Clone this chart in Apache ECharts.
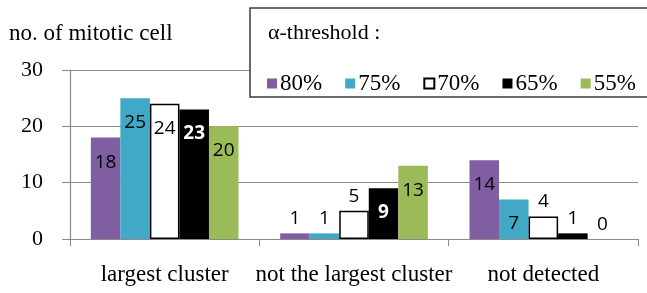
<!DOCTYPE html>
<html>
<head>
<meta charset="utf-8">
<script src="https://cdn.jsdelivr.net/npm/echarts@6/dist/echarts.min.js"></script>
<style>
  html, body { margin: 0; padding: 0; background: #fff; }
  #chart { width: 647px; height: 293px; }
</style>
</head>
<body>
<div id="chart"></div>
<script type="text/javascript">
// data
var categories = ['largest cluster', 'not the largest cluster', 'not detected'];
var thresholds = ['80%', '75%', '70%', '65%', '55%'];
var v80 = [18, 1, 14];
var v75 = [25, 1, 7];
var v70 = [24, 5, 4];
var v65 = [23, 9, 1];
var v55 = [20, 13, 0];
var yTicks = [0, 10, 20, 30];

var serif = '"Liberation Serif", "Times New Roman", Times, "DejaVu Serif", "Noto Serif", serif';
var sans = 'Open Sans';

// small bars get their number above (in black), tall ones inside the top
function items(vals) {
  return vals.map(function (v) {
    if (v <= 5) {
      return { value: v, label: { position: 'top', distance: 5, color: '#000', fontWeight: 'normal' } };
    }
    return { value: v, label: { position: 'insideTop', distance: 15 } };
  });
}

function bar(name, vals, fill, border, labelColor, bold) {
  return {
    name: name,
    type: 'bar',
    data: items(vals),
    barGap: 0,
    barCategoryGap: '22%',
    itemStyle: { color: fill, borderColor: border, borderWidth: border ? 1.5 : 0 },
    label: {
      show: true,
      color: labelColor,
      fontFamily: sans,
      fontSize: 19,
      fontWeight: bold ? 'bold' : 'normal'
    }
  };
}

var chart = echarts.init(document.getElementById('chart'));
chart.setOption({
  animation: false,
  backgroundColor: '#fff',
  grid: { left: 70, right: 9, top: 70, bottom: 54 },
  legend: {
    data: thresholds,
    left: 262,
    top: 67,
    icon: 'rect',
    itemWidth: 10,
    itemHeight: 10,
    itemGap: 23,
    z: 5,
    textStyle: { fontFamily: serif, fontSize: 23, color: '#000', padding: [0, 0, 0, -2] }
  },
  graphic: [
    {
      type: 'rect', z: 3,
      shape: { x: 250, y: 8, width: 410, height: 89 },
      style: { fill: '#fff', stroke: '#3a3a3a', lineWidth: 1.5 }
    },
    {
      type: 'text', z: 4, left: 268, top: 22,
      style: { text: '\u03b1-threshold :', fontFamily: serif, fontSize: 22, fill: '#000' }
    },
    {
      type: 'text', z: 4, left: 9, top: 22,
      style: { text: 'no. of mitotic cell', fontFamily: serif, fontSize: 23, fill: '#000' }
    }
  ],
  xAxis: {
    type: 'category',
    data: categories,
    axisLine: { lineStyle: { color: '#8a8a8a', width: 1.2 } },
    axisTick: { show: true, length: 7, lineStyle: { color: '#8a8a8a' } },
    axisLabel: { interval: 0, fontFamily: serif, fontSize: 23, color: '#000', margin: 24 }
  },
  yAxis: {
    type: 'value',
    min: yTicks[0],
    max: yTicks[yTicks.length - 1],
    interval: 10,
    axisLine: { show: true, lineStyle: { color: '#8a8a8a', width: 1.2 } },
    axisTick: { show: true, length: 8, lineStyle: { color: '#8a8a8a' } },
    splitLine: { lineStyle: { color: '#8a8a8a', width: 1.2 } },
    axisLabel: { fontFamily: serif, fontSize: 22, color: '#000', margin: 27 }
  },
  series: [
    bar(thresholds[0], v80, '#7f5fa1', null, '#000', false),
    bar(thresholds[1], v75, '#41a9c6', null, '#000', false),
    bar(thresholds[2], v70, '#ffffff', '#000', '#000', false),
    bar(thresholds[3], v65, '#000000', null, '#fff', true),
    bar(thresholds[4], v55, '#9bbb59', null, '#000', false)
  ]
});
</script>
</body>
</html>
